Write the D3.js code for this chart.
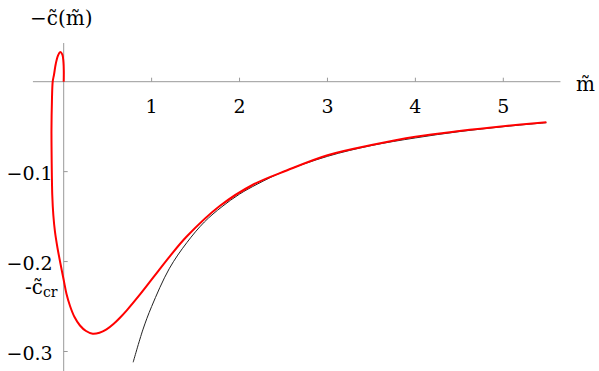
<!DOCTYPE html>
<html>
<head>
<meta charset="utf-8">
<script src="https://cdn.jsdelivr.net/npm/d3@7"></script>
<style>
  html, body { margin: 0; padding: 0; background: #fff; }
  svg { display: block; }
</style>
</head>
<body>
<svg id="chart" width="599" height="371"></svg>
<script>
// ---- data ----
const xTicks = [1, 2, 3, 4, 5];
const yTicks = [-0.1, -0.2, -0.3];
const xTickLabels = ["1", "2", "3", "4", "5"];
const yTickLabels = ["\u22120.1", "\u22120.2", "\u22120.3"];

// red parametric curve (m, -c) in drawing order
const redM = [0, 0.001, -0.003, -0.015, -0.04, -0.065, -0.09, -0.11, -0.125, -0.134, -0.139, -0.138,
  -0.135, -0.130, -0.118, -0.099, -0.0705, -0.036, 0, 0.032, 0.072, 0.123, 0.185, 0.254, 0.330, 0.407,
  0.487, 0.566, 0.640, 0.720, 0.868, 1.019, 1.209, 1.399, 1.778, 2.157, 2.536, 3.0, 3.5, 4.0, 4.5, 5.0, 5.49];
const redC = [0, 0.012, 0.022, 0.030, 0.033, 0.029, 0.020, 0.008, 0, -0.022, -0.0537, -0.0759,
  -0.1015, -0.1259, -0.1482, -0.1671, -0.1849, -0.2027, -0.2205, -0.2361, -0.2494, -0.2617, -0.2711, -0.2772, -0.2803, -0.2792,
  -0.2755, -0.2695, -0.2625, -0.2540, -0.2366, -0.2177, -0.1940, -0.1722, -0.1380, -0.1143, -0.0987, -0.0818, -0.0705, -0.0612, -0.0548, -0.0495, -0.0452];

// black asymptotic curve
const blackM = [0.79, 0.9, 1.0, 1.2, 1.4, 1.6, 1.8, 2.0, 2.2, 2.5, 3.0, 3.5, 4.0, 4.5, 5.0, 5.49];
const blackC = [-0.312, -0.276, -0.250, -0.208, -0.179, -0.156, -0.139, -0.125, -0.114, -0.100,
  -0.083, -0.071, -0.0625, -0.0555, -0.050, -0.0455];

const critValue = -0.222;

// ---- drawing ----
const NUMF = "DejaVu Serif";
const svg = d3.select("#chart");
const x = d3.scaleLinear().domain([0, 5]).range([63.7, 503.3]);
const y = d3.scaleLinear().domain([0, -0.3]).range([81.7, 351.5]);

const axisColor = "#999";

// x axis line
svg.append("line")
  .attr("x1", x(-0.35)).attr("x2", x(5.65))
  .attr("y1", y(0)).attr("y2", y(0))
  .attr("stroke", axisColor).attr("stroke-width", 1);
// y axis line
svg.append("line")
  .attr("x1", x(0)).attr("x2", x(0))
  .attr("y1", y(0.043)).attr("y2", y(-0.33))
  .attr("stroke", axisColor).attr("stroke-width", 1);

// x ticks
const xt = svg.append("g");
xTicks.forEach((t, i) => {
  xt.append("line").attr("x1", x(t)).attr("x2", x(t))
    .attr("y1", y(0)).attr("y2", y(0) - 4)
    .attr("stroke", axisColor).attr("stroke-width", 1);
  xt.append("text").attr("x", x(t)).attr("y", y(0) + 31)
    .attr("text-anchor", "middle").style("font-size", "19px").style("font-family", NUMF)
    .text(xTickLabels[i]);
});
// y ticks
const yt = svg.append("g");
yTicks.forEach((t, i) => {
  yt.append("line").attr("x1", x(0)).attr("x2", x(0) + 4)
    .attr("y1", y(t)).attr("y2", y(t))
    .attr("stroke", axisColor).attr("stroke-width", 1);
  yt.append("text").attr("x", x(0) - 11).attr("y", y(t) + 8)
    .attr("text-anchor", "end").style("font-size", "19px").style("font-family", NUMF)
    .text(yTickLabels[i]);
});

// axis labels
svg.append("text").attr("x", 30).attr("y", 25).style("font-size", "20px").style("font-family", NUMF)
  .text("\u2212c\u0303(m\u0303)");
svg.append("text").attr("x", 576).attr("y", 91).style("font-size", "20px").style("font-family", NUMF)
  .text("m\u0303");

// critical label
const cl = svg.append("text").attr("x", 25).attr("y", y(critValue) + 13)
  .style("font-size", "20px").style("font-family", NUMF);
cl.append("tspan").text("-c\u0303");
cl.append("tspan").style("font-size", "14px").attr("dy", 3).text("cr");

// curves
const line = d3.line().x(d => x(d[0])).y(d => y(d[1])).curve(d3.curveCatmullRom.alpha(0.5));

svg.append("path")
  .datum(blackM.map((m, i) => [m, blackC[i]]))
  .attr("d", line).attr("fill", "none")
  .attr("stroke", "#222").attr("stroke-width", 1);

svg.append("path")
  .datum(redM.map((m, i) => [m, redC[i]]))
  .attr("d", line).attr("fill", "none")
  .attr("stroke", "#ff0000").attr("stroke-width", 2);
</script>
</body>
</html>
